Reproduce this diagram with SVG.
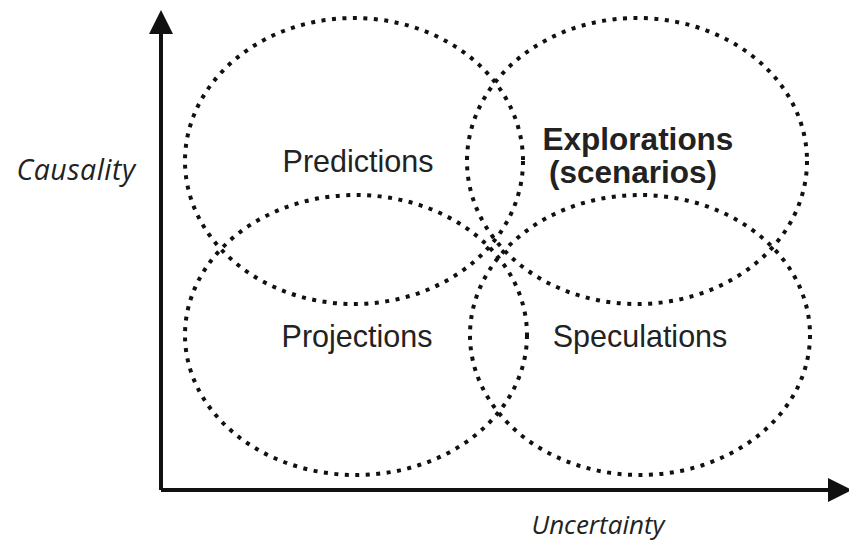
<svg xmlns="http://www.w3.org/2000/svg" width="849" height="552" viewBox="0 0 849 552">
<style>
.ell{fill:none;stroke:#111;stroke-width:4;stroke-dasharray:4 6.5}
.lbl{font-family:"Liberation Sans",Arial,sans-serif;font-size:30.5px;fill:#222;text-anchor:middle}
.b{font-weight:bold;font-size:31.5px}
.ax{font-family:"Open Sans",sans-serif;font-style:italic;font-size:26px;fill:#222;text-anchor:middle}
.axis{stroke:#111;stroke-width:4;fill:none}
</style>
<defs>
<marker id="ah" markerWidth="6" markerHeight="6" refX="0" refY="3" orient="auto" markerUnits="strokeWidth">
<path d="M0,0 L6,3 L0,6 Z" fill="#111"/>
</marker>
</defs>
<g id="connectors">
<path class="axis" d="M161,490 L161,34" marker-end="url(#ah)"/>
<path class="axis" d="M161,490 L828,490" marker-end="url(#ah)"/>
</g>
<g id="predictions">
<ellipse class="ell" cx="354" cy="161" rx="169" ry="143"/>
<text class="lbl" x="358" y="172">Predictions</text>
</g>
<g id="explorations">
<ellipse class="ell" cx="637" cy="161" rx="170" ry="143"/>
<text class="lbl b" x="638" y="150">Explorations</text>
<text class="lbl b" x="633" y="183">(scenarios)</text>
</g>
<g id="projections">
<ellipse class="ell" cx="356" cy="335" rx="171" ry="140"/>
<text class="lbl" x="357" y="347">Projections</text>
</g>
<g id="speculations">
<ellipse class="ell" cx="640" cy="335" rx="170" ry="140"/>
<text class="lbl" x="640" y="347">Speculations</text>
</g>
<g id="causality">
<text class="ax" x="76" y="180" style="font-size:28.5px" letter-spacing="0.5">Causality</text>
</g>
<g id="uncertainty">
<text class="ax" x="598" y="534">Uncertainty</text>
</g>
</svg>
